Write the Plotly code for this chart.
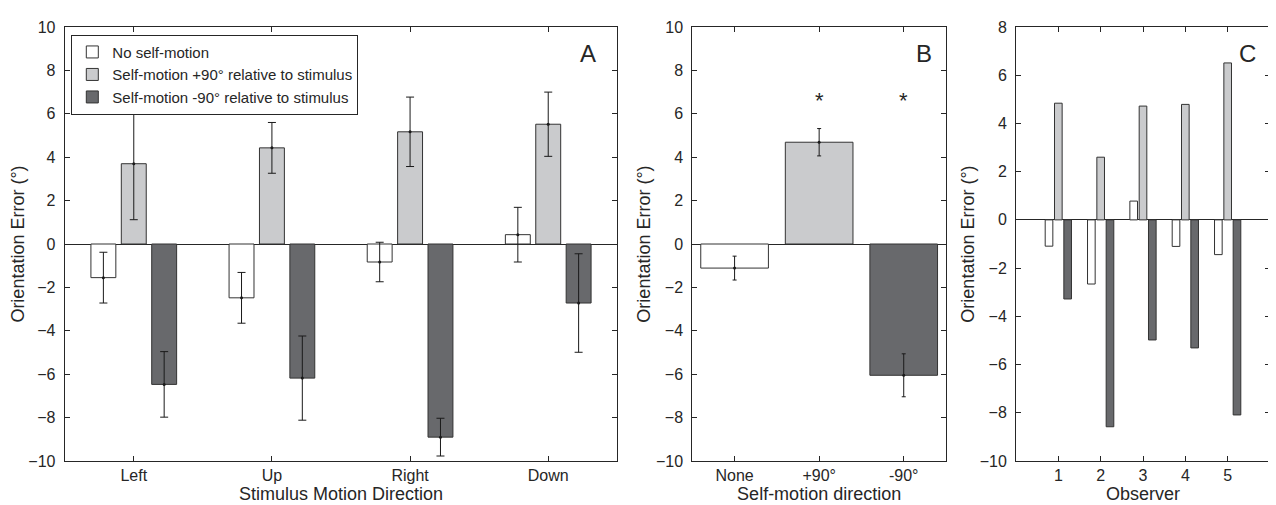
import plotly.graph_objects as go

# ---------------- data ----------------
DIRECTIONS = ["Left", "Up", "Right", "Down"]
A_NONE = [-1.55, -2.48, -0.83, 0.43]
A_NONE_ERR = [1.17, 1.17, 0.91, 1.26]
A_PLUS = [3.70, 4.43, 5.17, 5.52]
A_PLUS_ERR = [2.58, 1.17, 1.60, 1.48]
A_MINUS = [-6.47, -6.18, -8.90, -2.72]
A_MINUS_ERR = [1.51, 1.94, 0.87, 2.27]

B_LABELS = ["None", "+90°", "-90°"]
B_MEAN = [-1.11, 4.69, -6.05]
B_ERR = [0.55, 0.63, 0.99]
B_SIG = ["", "*", "*"]

OBSERVERS = [1, 2, 3, 4, 5]
C_NONE = [-1.09, -2.66, 0.78, -1.10, -1.44]
C_PLUS = [4.84, 2.60, 4.72, 4.79, 6.51]
C_MINUS = [-3.28, -8.58, -4.98, -5.31, -8.09]

SERIES_NAMES = ["No self-motion",
                "Self-motion +90° relative to stimulus",
                "Self-motion -90° relative to stimulus"]
COLORS = ["#ffffff", "#cacbcd", "#68696c"]

# ---------------- style ----------------
W, H = 1276, 505
FONT = "Liberation Sans, Arial, sans-serif"
INK = "#262626"
EDGE = "#333333"
BARGAP = 0.34
GROUPGAP = 0.18
SLOT = (1 - BARGAP) / 3
OFFSETS = [-SLOT, 0.0, SLOT]

fig = go.Figure()

# Panel A
a_x = list(range(1, len(DIRECTIONS) + 1))
for k, (vals, errs) in enumerate([(A_NONE, A_NONE_ERR), (A_PLUS, A_PLUS_ERR), (A_MINUS, A_MINUS_ERR)]):
    fig.add_trace(go.Bar(
        x=a_x, y=vals, name=SERIES_NAMES[k], xaxis="x", yaxis="y",
        marker=dict(color=COLORS[k], line=dict(color=EDGE, width=1)),
        error_y=dict(type="data", array=errs, color="#1a1a1a", thickness=1, width=4),
        showlegend=True,
    ))
    fig.add_trace(go.Scatter(
        x=[xi + OFFSETS[k] for xi in a_x], y=vals, mode="markers",
        marker=dict(size=3, color="#1a1a1a"), xaxis="x", yaxis="y",
        showlegend=False, hoverinfo="skip",
    ))

# Panel B
b_x = list(range(1, len(B_LABELS) + 1))
fig.add_trace(go.Bar(
    x=b_x, y=B_MEAN, width=0.8, xaxis="x2", yaxis="y2",
    marker=dict(color=COLORS, line=dict(color=EDGE, width=1)),
    error_y=dict(type="data", array=B_ERR, color="#1a1a1a", thickness=1, width=2),
    showlegend=False,
))
fig.add_trace(go.Scatter(
    x=b_x, y=B_MEAN, mode="markers", marker=dict(size=3, color="#1a1a1a"),
    xaxis="x2", yaxis="y2", showlegend=False, hoverinfo="skip",
))
for xi, s in zip(b_x, B_SIG):
    if s:
        fig.add_annotation(x=xi, y=6.6, xref="x2", yref="y2", text=s, showarrow=False,
                           font=dict(size=22, color=INK, family=FONT))

# Panel C
for k, vals in enumerate([C_NONE, C_PLUS, C_MINUS]):
    fig.add_trace(go.Bar(
        x=OBSERVERS, y=vals, xaxis="x3", yaxis="y3",
        marker=dict(color=COLORS[k], line=dict(color=EDGE, width=1)),
        showlegend=False,
    ))

ydom = [1 - 453 / H, 1 - 19 / H]
xdoms = [[56.7 / W, 609.3 / W], [684.3 / W, 938 / W], [1008 / W, 1262 / W]]

common_ax = dict(showline=True, linecolor=INK, linewidth=1, mirror="ticks",
                 ticks="inside", ticklen=5, tickcolor=INK, showgrid=False,
                 tickfont=dict(size=16, color=INK, family=FONT))

def xax(dom, rng, tv, tt, title, anchor):
    return dict(common_ax, domain=dom, range=rng, tickvals=tv, ticktext=tt,
                zeroline=False, anchor=anchor, ticklabelstandoff=0,
                title=dict(text=title, font=dict(size=18, color=INK, family=FONT), standoff=0))

def yax(rng, anchor):
    return dict(common_ax, domain=ydom, range=rng, dtick=2, anchor=anchor,
                zeroline=True, zerolinecolor=INK, zerolinewidth=1, ticklabelstandoff=5,
                title=dict(text="Orientation Error (°)", font=dict(size=18, color=INK, family=FONT), standoff=0))

fig.update_layout(
    width=W, height=H, template="none",
    margin=dict(l=0, r=0, t=0, b=0),
    paper_bgcolor="white", plot_bgcolor="white",
    font=dict(family=FONT, color=INK),
    barmode="group", bargap=BARGAP, bargroupgap=GROUPGAP,
    xaxis=xax(xdoms[0], [0.5, 4.5], a_x, DIRECTIONS, "Stimulus Motion Direction", "y"),
    yaxis=yax([-10, 10], "x"),
    xaxis2=xax(xdoms[1], [0.5, 3.5], b_x, B_LABELS, "Self-motion direction", "y2"),
    yaxis2=yax([-10, 10], "x2"),
    xaxis3=xax(xdoms[2], [0, 6], OBSERVERS, [str(o) for o in OBSERVERS], "Observer", "y3"),
    yaxis3=yax([-10, 8], "x3"),
    legend=dict(x=63.3 / W, y=1 - 26.7 / H, xanchor="left", yanchor="top",
                bgcolor="white", bordercolor=INK, borderwidth=1,
                font=dict(size=15, color=INK, family=FONT), tracegroupgap=0),
)

for letter, xr, yr, xpos in [("A", "x domain", "y domain", 0.947),
                             ("B", "x2 domain", "y2 domain", 0.913),
                             ("C", "x3 domain", "y3 domain", 0.913)]:
    fig.add_annotation(x=xpos, y=0.94, xref=xr, yref=yr,
                       text=letter, showarrow=False, xanchor="center", yanchor="middle",
                       font=dict(size=24, color=INK, family=FONT))

fig.write_html("out.html")
